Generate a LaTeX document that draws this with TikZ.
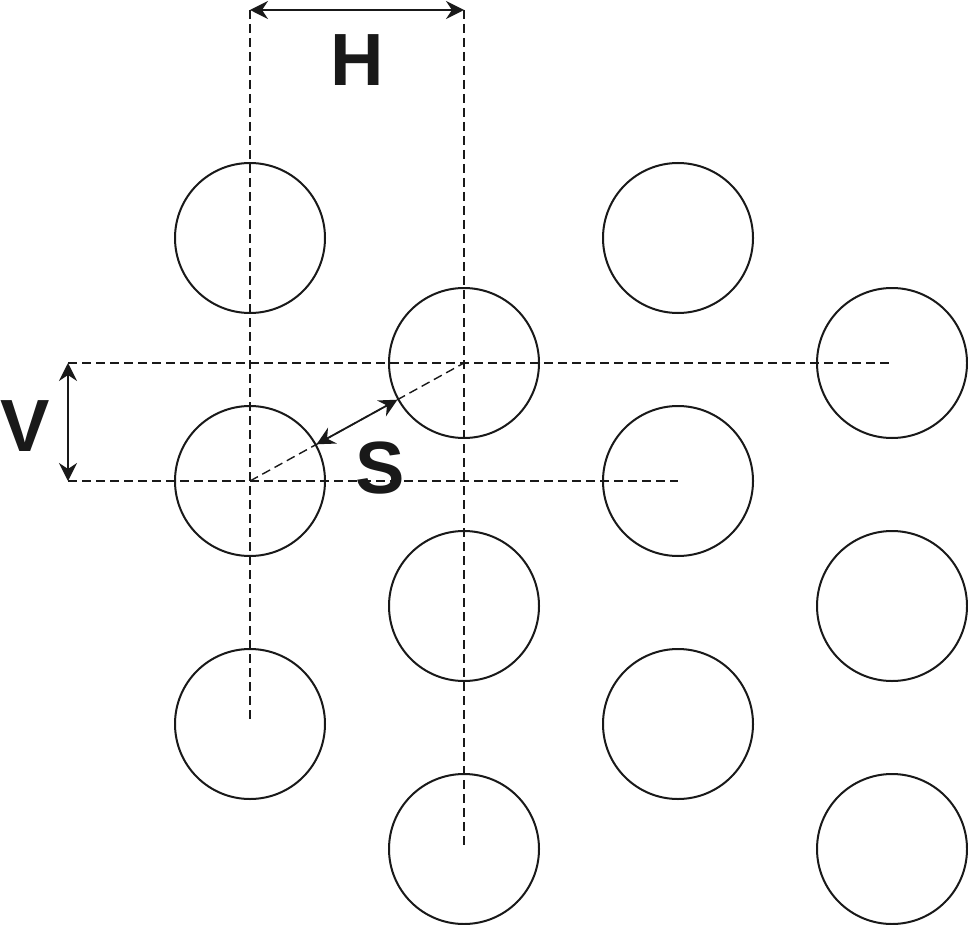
\documentclass[tikz,border=0pt]{standalone}
\usepackage{fontspec}
\newfontfamily\labelfont{Liberation Sans}
\usetikzlibrary{arrows.meta,positioning}
\tikzstyle{hole}=[draw, circle, line width=1pt, minimum size=75pt, inner sep=0pt]
\tikzstyle{guide}=[dash pattern=on 4.5pt off 2.5pt, line width=0.7pt]
\tikzstyle{pitch}=[{Stealth[length=9pt,width=9pt,inset=3pt]}-{Stealth[length=9pt,width=9pt,inset=3pt]}, line width=0.9pt]
\tikzstyle{letter}=[inner sep=0pt, font=\labelfont\bfseries\fontsize{37}{40}\selectfont]

\begin{document}
\begin{tikzpicture}[x=0.5pt, y=-0.5pt, color=black!90]
    \useasboundingbox (0,0) rectangle (968,925);
    % first column
    \node (c11) [hole] at (250,238) {};
    \node (c12) [hole] at (250,481) {};
    \node (c13) [hole] at (250,724) {};
    % second column
    \node (c21) [hole] at (464,363) {};
    \node (c22) [hole] at (464,606) {};
    \node (c23) [hole] at (464,849) {};
    % third column
    \node (c31) [hole] at (678,238) {};
    \node (c32) [hole] at (678,481) {};
    \node (c33) [hole] at (678,724) {};
    % fourth column
    \node (c41) [hole] at (892,363) {};
    \node (c42) [hole] at (892,606) {};
    \node (c43) [hole] at (892,849) {};
    %
    \coordinate (h1) at (250,10);
    \coordinate (h2) at (464,10);
    \coordinate (v1) at (68,363);
    \coordinate (v2) at (68,481);
    %
    \draw [guide] (h1) -- (c13.center);
    \draw [guide] (h2) -- (c23.center);
    \draw [guide] (v1) -- (c41.center);
    \draw [guide] (v2) -- (c32.center);
    \draw [guide] (c12.center) -- (c21.center);
    %
    \draw [pitch] (h1) -- (h2);
    \draw [pitch] (v1) -- (v2);
    \draw [pitch] (c12) -- (c21);
    %
    \node (labelH) [letter] at (357,60) {H};
    \node (labelV) [letter] at (25,426) {V};
    \node (labelS) [letter] at (380,468) {S};
\end{tikzpicture}
\end{document}
